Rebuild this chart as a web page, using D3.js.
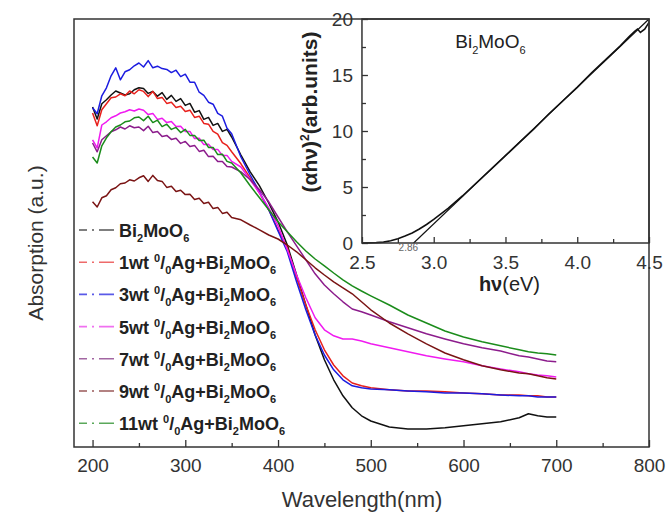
<!DOCTYPE html>
<html>
<head>
<meta charset="utf-8">
<script src="https://cdn.jsdelivr.net/npm/d3@7"></script>
<style>
  body { margin: 0; background: #fff; }
  text { font-family: 'Liberation Sans', Arial, sans-serif; }
</style>
</head>
<body>
<div id="chart"></div>
<script>
// wavelength grid (nm) shared by all spectra
const wavelength = [200, 205, 210, 215, 220, 225, 230, 235, 240, 245, 250, 255, 260, 265, 270, 275,
  280, 285, 290, 295, 300, 305, 310, 315, 320, 325, 330, 335, 340, 345, 350,
  360, 370, 380, 390, 400, 410, 420, 430, 440, 450, 460, 470, 480, 490, 500,
  520, 540, 560, 580, 600, 620, 640, 660, 670, 680, 690, 700]

const bmo = [0.850, 0.820, 0.858, 0.868, 0.880, 0.890, 0.885, 0.880, 0.883, 0.893, 0.898, 0.896, 0.884, 0.889, 0.877, 0.886,
  0.869, 0.879, 0.864, 0.871, 0.854, 0.859, 0.837, 0.841, 0.819, 0.824, 0.804, 0.809, 0.789, 0.794, 0.775,
  0.730, 0.688, 0.653, 0.610, 0.563, 0.505, 0.430, 0.355, 0.280, 0.218, 0.168, 0.128, 0.098, 0.078, 0.065,
  0.050, 0.045, 0.045, 0.048, 0.053, 0.058, 0.063, 0.073, 0.083, 0.078, 0.075, 0.075]

const ag1 = [0.835, 0.803, 0.843, 0.858, 0.873, 0.875, 0.883, 0.878, 0.890, 0.883, 0.893, 0.889, 0.876, 0.889, 0.871, 0.874,
  0.859, 0.862, 0.849, 0.852, 0.839, 0.842, 0.824, 0.827, 0.809, 0.807, 0.789, 0.782, 0.761, 0.754, 0.738,
  0.708, 0.673, 0.635, 0.593, 0.543, 0.498, 0.423, 0.355, 0.293, 0.243, 0.205, 0.178, 0.160, 0.153, 0.148,
  0.143, 0.140, 0.140, 0.138, 0.135, 0.133, 0.130, 0.130, 0.128, 0.128, 0.125, 0.125]

const ag3 = [0.848, 0.833, 0.878, 0.898, 0.928, 0.948, 0.918, 0.938, 0.943, 0.953, 0.960, 0.950, 0.966, 0.948, 0.952, 0.946,
  0.944, 0.936, 0.942, 0.926, 0.932, 0.912, 0.912, 0.887, 0.879, 0.862, 0.857, 0.834, 0.827, 0.797, 0.783,
  0.725, 0.680, 0.638, 0.593, 0.540, 0.488, 0.413, 0.343, 0.280, 0.230, 0.193, 0.168, 0.153, 0.148, 0.145,
  0.143, 0.140, 0.138, 0.135, 0.135, 0.133, 0.130, 0.128, 0.128, 0.125, 0.125, 0.125]

const ag5 = [0.768, 0.748, 0.805, 0.813, 0.823, 0.828, 0.835, 0.838, 0.843, 0.840, 0.845, 0.842, 0.831, 0.834, 0.819, 0.822,
  0.811, 0.814, 0.801, 0.802, 0.789, 0.789, 0.771, 0.772, 0.756, 0.757, 0.744, 0.744, 0.729, 0.729, 0.714,
  0.700, 0.668, 0.635, 0.598, 0.553, 0.493, 0.430, 0.373, 0.323, 0.293, 0.278, 0.270, 0.270, 0.265, 0.258,
  0.248, 0.238, 0.228, 0.220, 0.213, 0.203, 0.195, 0.188, 0.183, 0.180, 0.178, 0.175]

const ag7 = [0.760, 0.738, 0.768, 0.778, 0.788, 0.793, 0.800, 0.795, 0.803, 0.798, 0.800, 0.791, 0.802, 0.786, 0.789, 0.776,
  0.779, 0.769, 0.772, 0.759, 0.764, 0.751, 0.754, 0.739, 0.742, 0.726, 0.727, 0.714, 0.714, 0.701, 0.700,
  0.688, 0.668, 0.643, 0.613, 0.575, 0.538, 0.503, 0.468, 0.433, 0.405, 0.383, 0.363, 0.345, 0.338, 0.330,
  0.313, 0.298, 0.283, 0.270, 0.258, 0.248, 0.240, 0.228, 0.225, 0.220, 0.215, 0.213]

const ag9 = [0.613, 0.600, 0.623, 0.628, 0.643, 0.648, 0.658, 0.660, 0.668, 0.665, 0.673, 0.678, 0.664, 0.679, 0.666, 0.664,
  0.649, 0.652, 0.639, 0.642, 0.631, 0.632, 0.619, 0.622, 0.609, 0.612, 0.596, 0.599, 0.584, 0.587, 0.574,
  0.568, 0.555, 0.543, 0.530, 0.520, 0.505, 0.488, 0.468, 0.448, 0.430, 0.413, 0.398, 0.383, 0.363, 0.343,
  0.310, 0.283, 0.258, 0.235, 0.218, 0.203, 0.193, 0.185, 0.183, 0.178, 0.173, 0.170]

const ag11 = [0.725, 0.710, 0.753, 0.773, 0.788, 0.800, 0.805, 0.813, 0.815, 0.823, 0.825, 0.816, 0.827, 0.811, 0.817, 0.801,
  0.807, 0.794, 0.799, 0.786, 0.794, 0.779, 0.779, 0.766, 0.767, 0.749, 0.749, 0.731, 0.732, 0.714, 0.710,
  0.685, 0.653, 0.623, 0.593, 0.563, 0.538, 0.513, 0.490, 0.470, 0.453, 0.435, 0.418, 0.403, 0.390, 0.378,
  0.355, 0.330, 0.310, 0.290, 0.275, 0.263, 0.253, 0.243, 0.238, 0.235, 0.233, 0.230]

const sampleNames = ['Bi2MoO6', '1wt', '3wt', '5wt', '7wt', '9wt', '11wt']
const sampleColors = ['#111111', '#e8201c', '#1c1ce0', '#f01af0', '#8c1c8c', '#7a1414', '#1b8c1b']
const legendColors = ['#555555', '#ee6a6a', '#5a5ae8', '#f070f0', '#a266a2', '#9a5a5a', '#5aa85a']
const spectra = [bmo, ag1, ag3, ag5, ag7, ag9, ag11]

const mainTicks = [200, 300, 400, 500, 600, 700, 800]
const mainMinor = [250, 350, 450, 550, 650, 750]

// inset: Tauc plot of Bi2MoO6
const photonEnergy = [2.50, 2.55, 2.60, 2.65, 2.70, 2.75, 2.80, 2.85, 2.90, 2.95, 3.00, 3.05, 3.10, 3.15, 3.20,
  3.30, 3.40, 3.50, 3.60, 3.70, 3.80, 3.90, 4.00, 4.10, 4.20, 4.30, 4.36, 4.40, 4.42, 4.44, 4.47, 4.50]
const tauc = [0.00, 0.01, 0.03, 0.08, 0.20, 0.38, 0.62, 0.90, 1.25, 1.65, 2.10, 2.60, 3.10, 3.65, 4.20,
  5.40, 6.60, 7.80, 9.00, 10.2, 11.5, 12.7, 13.9, 15.2, 16.4, 17.6, 18.4, 18.9, 19.1, 18.8, 19.1, 19.7]
const fitX = [2.86, 4.5]
const fitY = [0, 20]
const insetXTicks = [2.5, 3.0, 3.5, 4.0, 4.5]
const insetXMinor = [2.75, 3.25, 3.75, 4.25]
const insetYTicks = [0, 5, 10, 15, 20]
const insetYMinor = [2.5, 7.5, 12.5, 17.5]

const margin = { top: 19, right: 18, bottom: 73, left: 74 }
const width = 667 - margin.left - margin.right
const height = 520 - margin.top - margin.bottom

const root = d3
  .select('#chart')
  .append('svg')
  .attr('width', 667)
  .attr('height', 520)

const svg = root
  .append('g')
  .attr('transform', 'translate(' + margin.left + ',' + margin.top + ')')

const xPositionScale = d3.scaleLinear().domain([180, 800]).range([0, width])
const yPositionScale = d3.scaleLinear().domain([0, 1.07]).range([height, 0])

// writes text with sub/superscript pieces
function richText(sel, parts, small, subShift, supShift) {
  let offset = 0
  parts.forEach(([txt, kind]) => {
    const target = kind === 'sub' ? subShift : kind === 'sup' ? -supShift : 0
    const t = sel.append('tspan').attr('dy', target - offset).text(txt)
    if (kind === 'sub' || kind === 'sup') t.attr('font-size', small)
    if (kind === 'reg') t.attr('font-weight', 'normal')
    offset = target
  })
}

// bottom ticks, pointing inward
const xAxis = d3
  .axisBottom(xPositionScale)
  .tickValues(mainTicks)
  .tickSizeInner(-7)
  .tickSizeOuter(0)
  .tickPadding(12)
  .tickFormat(d3.format('d'))

svg
  .append('g')
  .attr('class', 'x-axis')
  .attr('transform', 'translate(0,' + height + ')')
  .call(xAxis)
  .call(g => g.select('.domain').remove())
  .call(g => g.selectAll('line').attr('stroke', '#333').attr('stroke-width', 1.3))
  .call(g => g.selectAll('text').attr('font-size', 19).attr('fill', '#333').attr('font-family', "'Liberation Sans', Arial, sans-serif"))

svg
  .append('g')
  .attr('transform', 'translate(0,' + height + ')')
  .call(d3.axisBottom(xPositionScale).tickValues(mainMinor).tickSizeInner(-4).tickSizeOuter(0).tickFormat(''))
  .call(g => g.select('.domain').remove())
  .call(g => g.selectAll('line').attr('stroke', '#333').attr('stroke-width', 1.3))

// spectra
const line = d3
  .line()
  .x((d, i) => xPositionScale(wavelength[i]))
  .y(d => yPositionScale(d))

svg
  .selectAll('.spectrum')
  .data(spectra)
  .enter()
  .append('path')
  .attr('class', 'spectrum')
  .attr('d', d => line(d))
  .attr('fill', 'none')
  .attr('stroke', (d, i) => sampleColors[i])
  .attr('stroke-width', 1.5)
  .attr('stroke-linejoin', 'round')

// legend
const legend = svg
  .selectAll('.legend')
  .data(sampleNames)
  .enter()
  .append('g')
  .attr('class', 'legend')
  .attr('transform', (d, i) => 'translate(0,' + (218 + i * 32.2) + ')')

legend
  .append('line')
  .attr('x1', 5)
  .attr('x2', 40)
  .attr('y1', -7)
  .attr('y2', -7)
  .attr('stroke', (d, i) => legendColors[i])
  .attr('stroke-width', 1.6)
  .attr('stroke-dasharray', '8,5,2,5,15')

legend
  .append('text')
  .attr('x', 45)
  .attr('font-size', 18)
  .attr('font-weight', 'bold')
  .attr('fill', '#222')
  .each(function(d) {
    const sel = d3.select(this)
    if (d === 'Bi2MoO6') {
      richText(sel, [['Bi'], ['2', 'sub'], ['MoO'], ['6', 'sub']], 11, 5, 7)
    } else {
      richText(sel, [[d + ' '], ['0', 'sup'], ['/'], ['0', 'sub'], ['Ag+Bi'], ['2', 'sub'], ['MoO'], ['6', 'sub']], 11, 5, 7)
    }
  })

// axis titles
root
  .append('text')
  .attr('transform', 'translate(43,243) rotate(-90)')
  .attr('text-anchor', 'middle')
  .attr('font-size', 21)
  .attr('fill', '#333')
  .text('Absorption (a.u.)')

root
  .append('text')
  .attr('x', 362)
  .attr('y', 507)
  .attr('text-anchor', 'middle')
  .attr('font-size', 22)
  .attr('fill', '#333')
  .text('Wavelength(nm)')

// inset
const insetLeft = xPositionScale(490.5)
const insetW = width - insetLeft
const insetH = 224

const inset = svg.append('g').attr('transform', 'translate(' + insetLeft + ',0)')

inset
  .append('rect')
  .attr('width', insetW)
  .attr('height', insetH)
  .attr('fill', '#fff')

const xInset = d3.scaleLinear().domain([2.5, 4.5]).range([0, insetW])
const yInset = d3.scaleLinear().domain([0, 20]).range([insetH, 0])

inset
  .append('g')
  .attr('transform', 'translate(0,' + insetH + ')')
  .call(d3.axisBottom(xInset).tickValues(insetXTicks).tickSizeInner(-6).tickSizeOuter(0).tickPadding(13).tickFormat(d3.format('.1f')))
  .call(g => g.select('.domain').remove())
  .call(g => g.selectAll('line').attr('stroke', '#333').attr('stroke-width', 1.3))
  .call(g => g.selectAll('text').attr('font-size', 19).attr('fill', '#333').attr('font-family', "'Liberation Sans', Arial, sans-serif"))

inset
  .append('g')
  .attr('transform', 'translate(0,' + insetH + ')')
  .call(d3.axisBottom(xInset).tickValues(insetXMinor).tickSizeInner(-4).tickSizeOuter(0).tickFormat(''))
  .call(g => g.select('.domain').remove())
  .call(g => g.selectAll('line').attr('stroke', '#333').attr('stroke-width', 1.3))

inset
  .append('g')
  .call(d3.axisLeft(yInset).tickValues(insetYTicks).tickSizeInner(-6).tickSizeOuter(0).tickPadding(9))
  .call(g => g.select('.domain').remove())
  .call(g => g.selectAll('line').attr('stroke', '#333').attr('stroke-width', 1.3))
  .call(g => g.selectAll('text').attr('font-size', 19).attr('fill', '#333').attr('font-family', "'Liberation Sans', Arial, sans-serif"))

inset
  .append('g')
  .call(d3.axisLeft(yInset).tickValues(insetYMinor).tickSizeInner(-4).tickSizeOuter(0).tickFormat(''))
  .call(g => g.select('.domain').remove())
  .call(g => g.selectAll('line').attr('stroke', '#333').attr('stroke-width', 1.3))

const taucLine = d3
  .line()
  .x((d, i) => xInset(photonEnergy[i]))
  .y(d => yInset(d))

inset
  .append('path')
  .attr('d', taucLine(tauc))
  .attr('fill', 'none')
  .attr('stroke', '#111')
  .attr('stroke-width', 1.6)

inset
  .append('path')
  .attr('d', d3.line().x((d, i) => xInset(fitX[i])).y(d => yInset(d))(fitY))
  .attr('fill', 'none')
  .attr('stroke', '#111')
  .attr('stroke-width', 1.2)

inset
  .append('rect')
  .attr('width', insetW)
  .attr('height', insetH)
  .attr('fill', 'none')
  .attr('stroke', '#333')
  .attr('stroke-width', 1.5)

inset
  .append('text')
  .attr('x', xInset(2.86) - 15)
  .attr('y', insetH + 8)
  .attr('font-size', 10)
  .attr('fill', '#666')
  .text('2.86')

inset
  .append('text')
  .attr('x', xInset(3.15))
  .attr('y', 29)
  .attr('font-size', 19)
  .attr('fill', '#222')
  .call(sel => richText(sel, [['Bi'], ['2', 'sub'], ['MoO'], ['6', 'sub']], 11, 6, 7))

inset
  .append('text')
  .attr('x', insetW / 2 + 4)
  .attr('y', insetH + 48)
  .attr('text-anchor', 'middle')
  .attr('font-size', 20)
  .attr('font-weight', 'bold')
  .attr('fill', '#222')
  .call(sel => richText(sel, [['hν'], ['(eV)', 'reg']], 11, 6, 7))

inset
  .append('text')
  .attr('transform', 'translate(-45,' + (insetH / 2 - 19) + ') rotate(-90)')
  .attr('text-anchor', 'middle')
  .attr('font-size', 21)
  .attr('font-weight', 'bold')
  .attr('fill', '#222')
  .call(sel => richText(sel, [['(αhν)'], ['2', 'sup'], ['(arb.units)']], 12, 6, 8))

// main frame on top
svg
  .append('rect')
  .attr('width', width)
  .attr('height', height)
  .attr('fill', 'none')
  .attr('stroke', '#333')
  .attr('stroke-width', 1.5)
</script>
</body>
</html>
